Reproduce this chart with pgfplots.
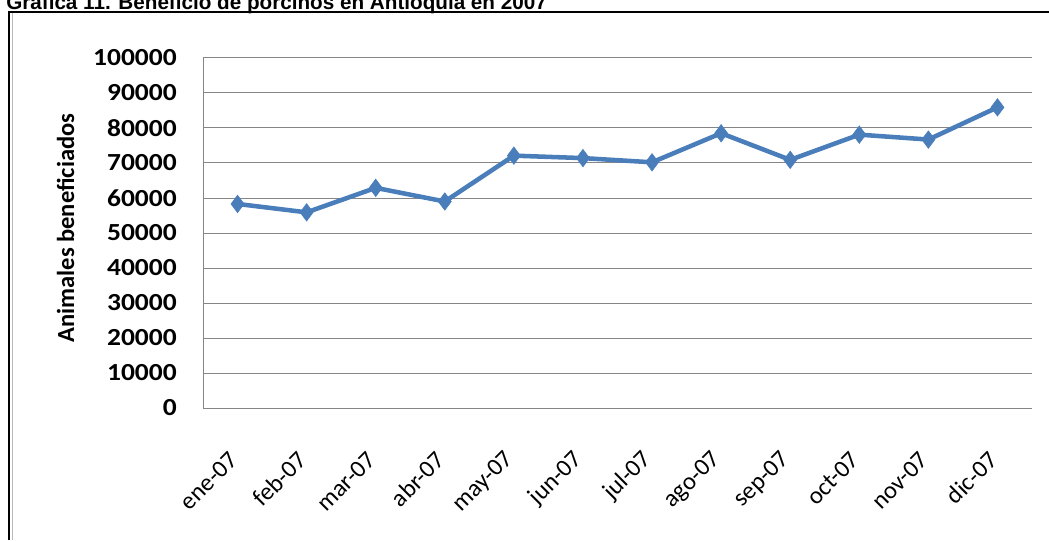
\documentclass[border=0pt]{standalone}
\usepackage{fontspec}
\setmainfont{Carlito}
\newfontfamily\arialfont{Liberation Sans}
\newfontfamily\tickfont[FakeStretch=1.12]{Carlito}
\usepackage{pgfplots}
\pgfplotsset{compat=1.18}
\definecolor{serie}{RGB}{74,126,187}
\definecolor{gridc}{RGB}{134,134,134}
\begin{document}
\begin{tikzpicture}
\useasboundingbox (0pt,0pt) rectangle (786.75pt,405pt);
\node[anchor=base west, inner sep=0pt, font=\arialfont\bfseries\fontsize{15.5}{18}\selectfont] at (6*0.75pt,530*0.75pt) {Gráfica 11. Beneficio de porcinos en Antioquia en 2007};
\draw[black, line width=1.5pt] (9*0.75pt,528*0.75pt) -- (1049*0.75pt,528*0.75pt);
\draw[black, line width=1.5pt] (9*0.75pt,528.75*0.75pt) -- (9*0.75pt,0pt);
\draw[gray!55, line width=1pt] (12.5*0.75pt,527*0.75pt) -- (12.5*0.75pt,0pt);
\begin{axis}[
  at={(203*0.75pt,132*0.75pt)}, anchor=south west,
  scale only axis, width=621.75pt, height=262.5pt,
  xmin=-0.5, xmax=11.5, ymin=0, ymax=100000,
  ytick={0,10000,...,100000},
  xtick={0,...,11},
  xticklabels={ene-07,feb-07,mar-07,abr-07,may-07,jun-07,jul-07,ago-07,sep-07,oct-07,nov-07,dic-07},
  scaled y ticks=false,
  /pgf/number format/assume math mode=true,
  yticklabel={\pgfmathprintnumber[fixed,1000 sep={}]{\tick}},
  ymajorgrids, grid style={gridc, line width=0.75pt},
  axis lines*=left,
  axis line style={gridc, line width=0.75pt},
  tick style={draw=none},
  major tick length=0pt,
  yticklabel style={inner sep=0pt, xshift=-19.5pt, font=\tickfont\bfseries\fontsize{18.4}{20}\selectfont, text=black},
  xticklabel style={xshift=-3pt, yshift=-36pt, rotate=45, anchor=east, inner sep=0pt, font=\fontsize{18.4}{20}\selectfont, text=black},
  clip=false,
]
\addplot[serie, line width=3.4pt, mark=diamond*, mark size=6.5pt, mark options={solid, fill=serie, draw=serie, line width=0.5pt}]
coordinates {
(0,58300) (1,55900) (2,62900) (3,59000) (4,72100) (5,71400)
(6,70200) (7,78500) (8,70900) (9,78100) (10,76700) (11,85900)
};
\end{axis}
\node[rotate=90, inner sep=0pt, font=\bfseries\fontsize{18.4}{20}\selectfont] at (65.5*0.75pt,312*0.75pt) {Animales beneficiados};
\end{tikzpicture}
\end{document}
